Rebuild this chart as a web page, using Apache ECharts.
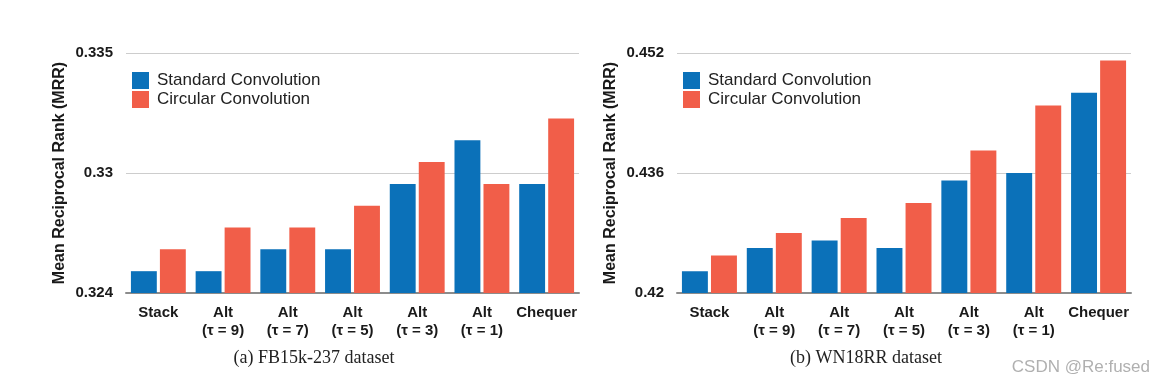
<!DOCTYPE html>
<html><head><meta charset="utf-8">
<script src="https://cdn.jsdelivr.net/npm/echarts@6/dist/echarts.min.js"></script>
<style>html,body{margin:0;padding:0;background:#fff}#c{width:1165px;height:384px}</style>
</head><body><div id="c"></div>
<script>
const categories = ['Stack', 'Alt\n(τ = 9)', 'Alt\n(τ = 7)', 'Alt\n(τ = 5)', 'Alt\n(τ = 3)', 'Alt\n(τ = 1)', 'Chequer'];
const fbStandard = [0.325, 0.325, 0.326, 0.326, 0.329, 0.331, 0.329];
const fbCircular = [0.326, 0.327, 0.327, 0.328, 0.330, 0.329, 0.332];
const wnStandard = [0.4229, 0.426, 0.427, 0.426, 0.435, 0.436, 0.4467];
const wnCircular = [0.425, 0.428, 0.430, 0.432, 0.439, 0.445, 0.451];
const fbTickValues = [0.324, 0.3295, 0.335];
const fbTickLabels = ['0.324', '0.33', '0.335'];
const wnTickValues = [0.42, 0.436, 0.452];
const wnTickLabels = ['0.42', '0.436', '0.452'];
const seriesNames = ['Standard Convolution', 'Circular Convolution'];
const captions = ['(a) FB15k-237 dataset', '(b) WN18RR dataset'];

const BLUE = '#0b71b9', RED = '#f15e49';
const FONT = '"Liberation Sans", Arial, Helvetica, sans-serif';

function labelFor(vals, labs) {
  return function (v) {
    let best = 0;
    for (let i = 1; i < vals.length; i++) if (Math.abs(vals[i] - v) < Math.abs(vals[best] - v)) best = i;
    return labs[best];
  };
}
function xAxis(gi) {
  return {
    type: 'category', gridIndex: gi, data: categories,
    axisTick: { show: false },
    axisLine: { lineStyle: { color: '#8c8c8c', width: 2 } },
    axisLabel: { fontFamily: FONT, fontWeight: 'bold', fontSize: 15, color: '#1a1a1a', lineHeight: 18, margin: 11, interval: 0 }
  };
}
function yAxis(gi, min, max, vals, labs) {
  return {
    type: 'value', gridIndex: gi, min: min, max: max,
    name: 'Mean Reciprocal Rank (MRR)', nameLocation: 'middle', nameRotate: 90, nameGap: 58,
    nameTextStyle: { fontFamily: FONT, fontWeight: 'bold', fontSize: 16, color: '#1a1a1a' },
    axisLine: { show: false },
    axisTick: { show: false, customValues: vals },
    axisLabel: { customValues: vals, formatter: labelFor(vals, labs), fontFamily: FONT, fontWeight: 'bold', fontSize: 15, color: '#1a1a1a', margin: 13 },
    splitLine: { show: true, lineStyle: { color: '#cdcdcd', width: 1 } }
  };
}
function bar(name, xi, data, color) {
  return {
    name: name, type: 'bar', xAxisIndex: xi, yAxisIndex: xi, data: data,
    barWidth: '40%', barGap: '12%', itemStyle: { color: color }, silent: true
  };
}
function legend(left) {
  return {
    orient: 'vertical', left: left, top: 72, padding: 0, itemWidth: 17, itemHeight: 17, itemGap: 2, icon: 'rect',
    data: seriesNames, selectedMode: false,
    textStyle: { fontFamily: FONT, fontSize: 17, color: '#222', padding: [0, 0, 0, 3] }
  };
}

const chart = echarts.init(document.getElementById('c'), null, { renderer: 'canvas' });
chart.setOption({
  animation: false,
  grid: [
    { left: 126, right: 586, top: 53, bottom: 91 },
    { left: 677, right: 34, top: 53, bottom: 91 }
  ],
  xAxis: [xAxis(0), xAxis(1)],
  yAxis: [
    yAxis(0, 0.324, 0.335, fbTickValues, fbTickLabels),
    yAxis(1, 0.42, 0.452, wnTickValues, wnTickLabels)
  ],
  legend: [legend(132), legend(683)],
  series: [
    bar(seriesNames[0], 0, fbStandard, BLUE),
    bar(seriesNames[1], 0, fbCircular, RED),
    bar(seriesNames[0], 1, wnStandard, BLUE),
    bar(seriesNames[1], 1, wnCircular, RED)
  ],
  graphic: [
    { type: 'text', x: 314, y: 358, style: { text: captions[0], font: '18px "Liberation Serif", "Times New Roman", serif', fill: '#222', align: 'center', verticalAlign: 'middle' } },
    { type: 'text', x: 866, y: 358, style: { text: captions[1], font: '18px "Liberation Serif", "Times New Roman", serif', fill: '#222', align: 'center', verticalAlign: 'middle' } },
    { type: 'text', x: 1150, y: 367, style: { text: 'CSDN @Re:fused', font: '17px "Liberation Sans", Arial, sans-serif', fill: '#b0b0b0', align: 'right', verticalAlign: 'middle' } }
  ]
});
</script></body></html>
